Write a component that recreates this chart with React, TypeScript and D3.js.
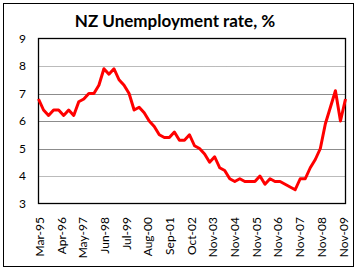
import React from "react";
import * as d3 from "d3";

const title = "NZ Unemployment rate, %";
const tickLabels = [
  "Mar-95", "Apr-96", "May-97", "Jun-98", "Jul-99", "Aug-00", "Sep-01", "Oct-02",
  "Nov-03", "Nov-04", "Nov-05", "Nov-06", "Nov-07", "Nov-08", "Nov-09",
];
const rate = [
  6.8, 6.4, 6.2, 6.4, 6.4, 6.2, 6.4, 6.2, 6.7, 6.8, 7.0, 7.0, 7.3, 7.9, 7.7, 7.9,
  7.5, 7.3, 7.0, 6.4, 6.5, 6.3, 6.0, 5.8, 5.5, 5.4, 5.4, 5.6, 5.3, 5.3, 5.5, 5.1,
  5.0, 4.8, 4.5, 4.7, 4.3, 4.2, 3.9, 3.8, 3.9, 3.8, 3.8, 3.8, 4.0, 3.7, 3.9, 3.8,
  3.8, 3.7, 3.6, 3.5, 3.9, 3.9, 4.3, 4.6, 5.0, 5.9, 6.5, 7.1, 6.0, 6.8,
];
const yTicks = [3, 4, 5, 6, 7, 8, 9];
const dottedGrid = [4, 8];

const W = 356;
const H = 270;
const plot = { left: 38.5, right: 345.5, top: 38.5, bottom: 203.5 };
const font = "Lato, 'Open Sans', sans-serif";

export default function App() {
  const x = d3.scaleLinear().domain([0, rate.length - 1]).range([plot.left, plot.right]);
  const y = d3.scaleLinear().domain([3, 9]).range([plot.bottom, plot.top]);
  const xl = d3.scalePoint<string>().domain(tickLabels).range([plot.left + 1.5, plot.right - 2]);
  const line = d3
    .line<number>()
    .x((_, i) => x(i))
    .y((d) => y(d));

  return (
    <svg
      width={W}
      height={H}
      style={{ position: "absolute", left: 0, top: 0, background: "#fff" }}
    >
      <rect x={3.5} y={3.5} width={350} height={263} fill="#fff" stroke="#000" strokeWidth={1} />
      <text
        x={175}
        y={27}
        textAnchor="middle"
        fontFamily={font}
        fontWeight="bold"
        fontSize={17}
        fill="#000"
      >
        {title}
      </text>
      {yTicks
        .filter((t) => t > 3 && t < 9)
        .map((t) => (
          <line
            key={"g" + t}
            x1={plot.left}
            x2={plot.right}
            y1={Math.round(y(t)) + 0.5}
            y2={Math.round(y(t)) + 0.5}
            stroke={dottedGrid.includes(t) ? "#777" : "#8c8c8c"}
            strokeWidth={1}
            strokeDasharray={dottedGrid.includes(t) ? "1,1" : undefined}
          />
        ))}
      <rect
        x={plot.left}
        y={plot.top}
        width={plot.right - plot.left}
        height={plot.bottom - plot.top}
        fill="none"
        stroke="#000"
        strokeWidth={1.3}
      />
      {yTicks.map((t) => (
        <text
          key={"y" + t}
          x={26}
          y={y(t)}
          dy="0.35em"
          textAnchor="end"
          fontFamily={font}
          fontSize={12}
          fill="#000"
        >
          {t}
        </text>
      ))}
      {tickLabels.map((l) => (
        <text
          key={l}
          transform={`translate(${xl(l)! + 4},217) rotate(-90)`}
          textAnchor="end"
          fontFamily={font}
          fontSize={12}
          fill="#000"
        >
          {l}
        </text>
      ))}
      <path
        d={line(rate) || ""}
        fill="none"
        stroke="#ff0000"
        strokeWidth={3}
        strokeLinejoin="round"
      />
    </svg>
  );
}
